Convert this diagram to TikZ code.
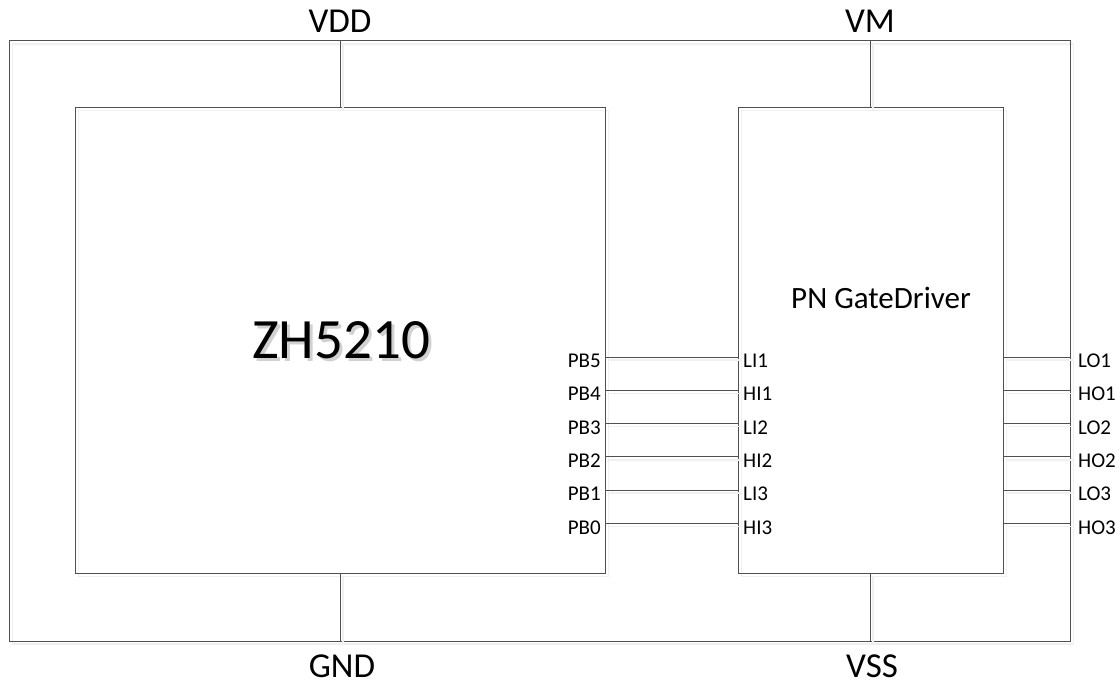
\documentclass[tikz,border=0pt]{standalone}
\usepackage{fontspec}
\setmainfont{Carlito}
\usetikzlibrary{calc}
\definecolor{linec}{HTML}{505050}
\definecolor{shadowc}{HTML}{F0F0F0}
\begin{document}
\begin{tikzpicture}[x=1pt,y=-1pt,
  shad/.style={preaction={draw=shadowc,line width=1.5pt,transform canvas={shift={(3pt,-3pt)}}}},
  box/.style={draw=linec,line width=1pt,rectangle,inner sep=0pt,anchor=north west,shad},
  wire/.style={draw=linec,line width=1pt,shad},
  rail/.style={font=\fontsize{35}{40}\selectfont,inner sep=0pt},
  pin/.style={font=\fontsize{21}{24}\selectfont,inner sep=0pt}]
\useasboundingbox (0,0) rectangle (1120,685);
\node[box,minimum width=1061pt,minimum height=600pt] (frame) at (9,40.5) {};
\node[box,minimum width=530pt,minimum height=466pt] (mcu) at (75,107) {};
\node[box,minimum width=265pt,minimum height=466pt] (drv) at (738,107) {};
% title texts
\node[font=\fontsize{57}{62}\selectfont,inner sep=0pt,anchor=base] (mcutext) at (341,358)
  {\rlap{\hspace{3pt}\raisebox{-3pt}{\color{black!18}ZH5210}}ZH5210};
\node[font=\fontsize{31}{36}\selectfont,inner sep=0pt,anchor=base] (drvtext) at (881,308) {PN GateDriver};
% rails
\coordinate (vddc) at (340,0);
\coordinate (vmc) at (870,0);
\draw[wire] (mcu.north -| vddc) -- (frame.north -| vddc);
\draw[wire] (drv.north -| vmc) -- (frame.north -| vmc);
\draw[wire] (mcu.south -| vddc) -- (frame.south -| vddc);
\draw[wire] (drv.south -| vmc) -- (frame.south -| vmc);
\node[rail,anchor=base] (vdd) at (340,33) {VDD};
\node[rail,anchor=base] (vm) at (870,33) {VM};
\node[rail,anchor=base] (gnd) at (342,677) {GND};
\node[rail,anchor=base] (vss) at (872,677) {VSS};
% pins
\foreach \i/\pb/\li/\lo in {0/PB5/LI1/LO1,1/PB4/HI1/HO1,2/PB3/LI2/LO2,3/PB2/HI2/HO2,4/PB1/LI3/LO3,5/PB0/HI3/HO3}{
  \pgfmathsetmacro{\dy}{250+33.3*\i}
  \coordinate (a\i) at ($(mcu.north east)+(0,\dy)$);
  \coordinate (b\i) at ($(drv.north west)+(0,\dy)$);
  \coordinate (c\i) at ($(drv.north east)+(0,\dy)$);
  \coordinate (d\i) at (c\i -| frame.east);
  \draw[wire] (a\i) -- (b\i);
  \draw[wire] (c\i) -- (d\i);
  \node[pin,anchor=base east] (pbl\i) at ($(a\i)+(-5,10.5)$) {\pb};
  \node[pin,anchor=base west] (lil\i) at ($(b\i)+(5,10.5)$) {\li};
  \node[pin,anchor=base west] (lol\i) at ($(d\i)+(7,10.5)$) {\lo};
}
\end{tikzpicture}
\end{document}
